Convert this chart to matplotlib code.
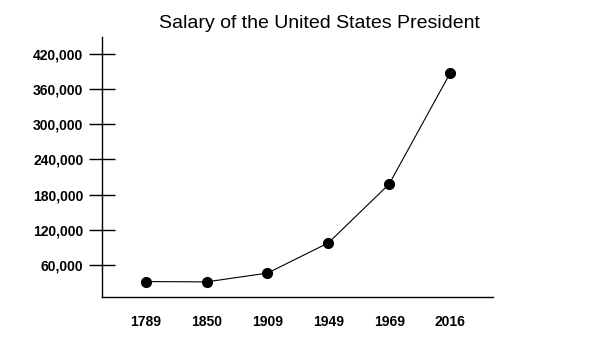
import matplotlib.pyplot as plt
from matplotlib.ticker import FuncFormatter

plt.rcParams['font.family'] = ['Liberation Sans', 'DejaVu Sans']

years = ["1789", "1850", "1909", "1949", "1969", "2016"]
salary = [31500, 31000, 46000, 97500, 198000, 387000]
y_ticks = [60000, 120000, 180000, 240000, 300000, 360000, 420000]

fig = plt.figure(figsize=(6, 3.5), dpi=100)
ax = fig.add_axes([0.17, 0.152, 0.651, 0.742])

x = range(len(years))
ax.plot(x, salary, color='black', linewidth=0.8, marker='o', markersize=7)

ax.set_xlim(-0.72, 5.70)
ax.set_ylim(5500, 449000)
ax.set_xticks(list(x))
ax.set_xticklabels(years, fontsize=10, fontweight='bold')
ax.set_yticks(y_ticks)
ax.yaxis.set_major_formatter(FuncFormatter(lambda v, p: f"{int(v):,}"))
for lab in ax.get_yticklabels():
    lab.set_fontsize(10)
    lab.set_fontweight('bold')

ax.tick_params(axis='x', length=0, pad=13)
ax.tick_params(axis='y', direction='inout', length=19, width=1, pad=4)

ax.spines['top'].set_visible(False)
ax.spines['right'].set_visible(False)
ax.spines['left'].set_linewidth(1)
ax.spines['bottom'].set_linewidth(1)

fig.text(0.532, 0.934, "Salary of the United States President",
         fontsize=14, ha='center', va='center')

fig.savefig("out.png", dpi=100)
